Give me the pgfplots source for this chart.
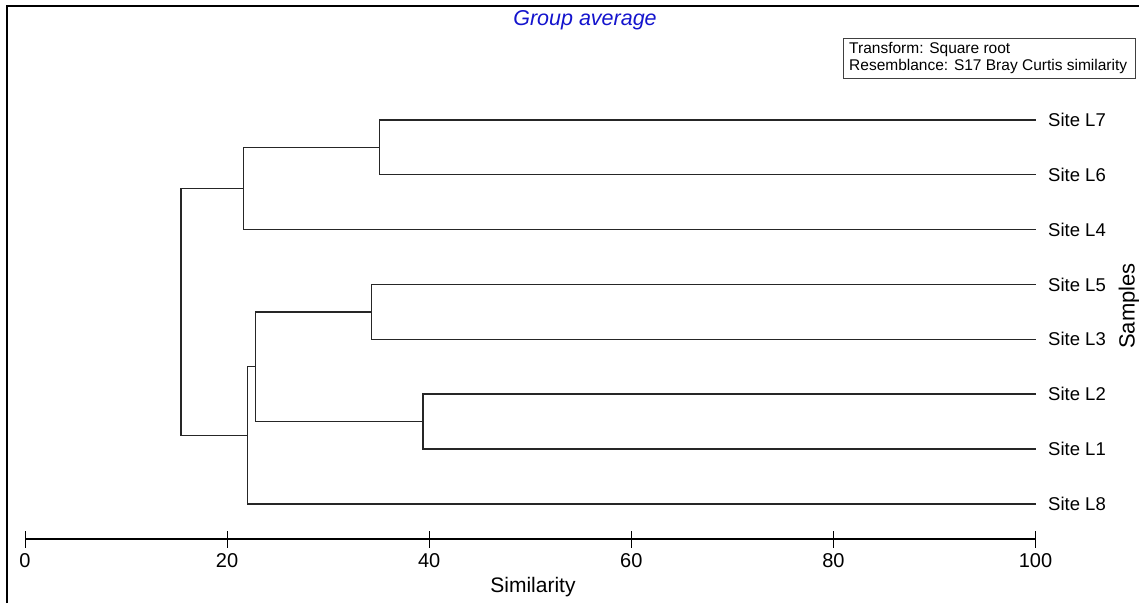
\documentclass[border=0pt]{standalone}
\usepackage{pgfplots}
\pgfplotsset{compat=1.18}
\usepackage{fontspec}
\setmainfont{Liberation Sans}
\definecolor{titleblue}{RGB}{20,20,205}
\begin{document}
\begin{tikzpicture}[x=1pt,y=1pt]
\path[use as bounding box] (0pt,0pt) rectangle (1139pt,603pt);
% frame
\draw[line width=2pt] (7pt,0pt) -- (7pt,597pt) -- (1139pt,597pt);
% title
\node[font=\fontsize{21.5}{24}\selectfont\itshape, text=titleblue] at (585pt,583pt) {Group average};
% info box
\draw[line width=0.8pt, black!75] (843pt,565pt) rectangle (1135pt,525pt);
\node[anchor=base west, inner sep=0pt, font=\fontsize{15.5}{17}\selectfont] at (849pt,549.7pt) {Transform: Square root};
\node[anchor=base west, inner sep=0pt, font=\fontsize{15.5}{17}\selectfont] at (849pt,532.3pt) {Resemblance: S17 Bray Curtis similarity};
% side label
\node[rotate=90, font=\fontsize{22}{24}\selectfont] at (1129pt,297pt) {Samples};
% x label
\node[anchor=base, font=\fontsize{21}{23}\selectfont] at (533pt,11pt) {Similarity};
\begin{axis}[
  at={(25pt,64pt)}, anchor=south west,
  scale only axis,
  width=1010.5pt, height=528.9pt,
  xmin=0, xmax=100, ymin=-0.64, ymax=9,
  axis x line*=bottom, axis y line*=right,
  x axis line style={line width=1.2pt},
  y axis line style={draw=none},
  xtick={0,20,40,60,80,100},
  xtick align=center,
  major tick length=17pt,
  xtick style={line width=0.9pt, black},
  ytick={0,1,2,3,4,5,6,7},
  yticklabels={Site L8,Site L1,Site L2,Site L3,Site L5,Site L4,Site L6,Site L7},
  ytick style={draw=none},
  yticklabel style={anchor=west, inner sep=0pt, xshift=12.5pt, font=\fontsize{18.5}{20}\selectfont},
  xticklabel style={anchor=north, inner sep=0pt, yshift=-6pt, font=\fontsize{20}{22}\selectfont},
  /pgf/number format/assume math mode=true,
  clip=false,
]
\addplot[black!85, no marks, solid, line width=1.4pt] coordinates {(100,7) (35.06,7) (35.06,6) (100,6)};
\addplot[black!85, no marks, solid, line width=1.4pt] coordinates {(35.06,6.5) (21.60,6.5) (21.60,5) (100,5)};
\addplot[black!85, no marks, solid, line width=1.4pt] coordinates {(100,4) (34.27,4) (34.27,3) (100,3)};
\addplot[black!85, no marks, solid, line width=1.4pt] coordinates {(100,2) (39.39,2) (39.39,1) (100,1)};
\addplot[black!85, no marks, solid, line width=1.4pt] coordinates {(34.27,3.5) (22.79,3.5) (22.79,1.5) (39.39,1.5)};
\addplot[black!85, no marks, solid, line width=1.4pt] coordinates {(22.79,2.5) (22.00,2.5) (22.00,0) (100,0)};
\addplot[black!85, no marks, solid, line width=1.4pt] coordinates {(21.60,5.75) (15.44,5.75) (15.44,1.25) (22.00,1.25)};
\end{axis}
\end{tikzpicture}
\end{document}
